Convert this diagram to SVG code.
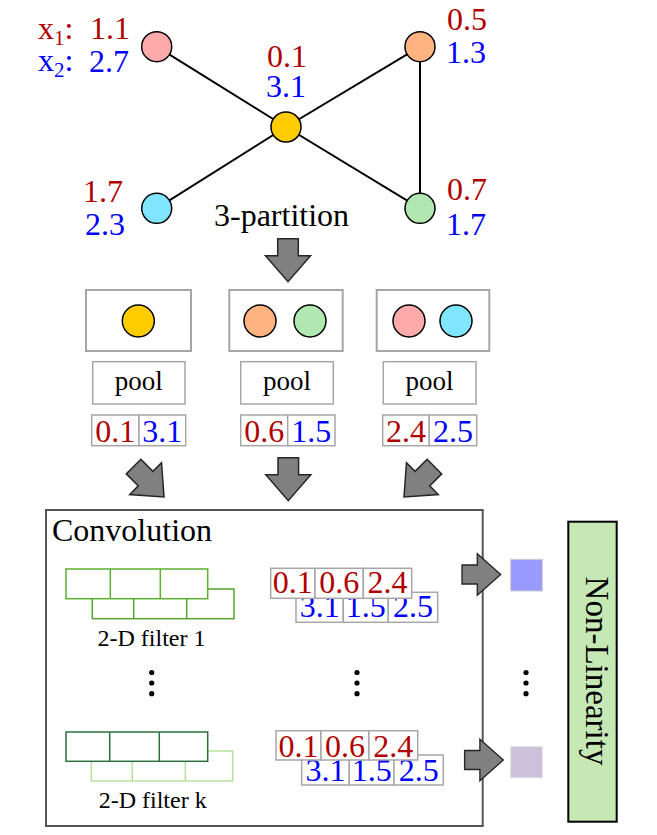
<svg xmlns="http://www.w3.org/2000/svg" width="657" height="835" viewBox="0 0 657 835">
<style>
text{font-family:"Liberation Serif","Times New Roman",serif}
.r{fill:#b00000;font-size:32px}
.b{fill:#0000ff;font-size:32px}
.k{fill:#000}
.nd{stroke:#000;stroke-width:1.5}
.edge{stroke:#000;stroke-width:2;fill:none}
.grp{fill:#fff;stroke:#a6a6a6;stroke-width:2}
.cell{fill:#fff;stroke:#a6a6a6;stroke-width:1.5}
.arr{fill:#808080;stroke:#262626;stroke-width:1.5;stroke-linejoin:miter}
.m{text-anchor:middle}
</style>
<defs>
<polygon id="darr" points="-10.3,-43 10.3,-43 10.3,-26 22.5,-26 0,0 -22.5,-26 -10.3,-26"/>
</defs>
<rect width="657" height="835" fill="#fff"/>

<g id="edges">
<line class="edge" x1="156.7" y1="46.7" x2="286" y2="127"/>
<line class="edge" x1="156.7" y1="208.3" x2="286" y2="127"/>
<line class="edge" x1="420" y1="46.7" x2="286" y2="127"/>
<line class="edge" x1="420" y1="208.3" x2="286" y2="127"/>
<line class="edge" x1="420" y1="46.7" x2="420" y2="208.3"/>
</g>

<g id="node-pink">
<circle class="nd" cx="156.7" cy="46.7" r="15" fill="#ffaaaa"/>
<text class="r" x="38" y="39">x<tspan font-size="21" dy="6">1</tspan><tspan dy="-6">:</tspan></text>
<text class="r" x="90" y="39">1.1</text>
<text class="b" x="38" y="71">x<tspan font-size="21" dy="6">2</tspan><tspan dy="-6">:</tspan></text>
<text class="b" x="89" y="71.7">2.7</text>
</g>
<g id="node-yellow">
<circle class="nd" cx="286" cy="127" r="15" fill="#ffcc00"/>
<text class="r" x="267" y="66.7">0.1</text>
<text class="b" x="266" y="97.3">3.1</text>
</g>
<g id="node-cyan">
<circle class="nd" cx="156.7" cy="208.3" r="15" fill="#80e5ff"/>
<text class="r" x="83" y="201.7">1.7</text>
<text class="b" x="85" y="235">2.3</text>
</g>
<g id="node-orange">
<circle class="nd" cx="420" cy="46.7" r="15" fill="#ffb380"/>
<text class="r" x="447" y="30">0.5</text>
<text class="b" x="446" y="63.3">1.3</text>
</g>
<g id="node-green">
<circle class="nd" cx="420" cy="208.3" r="15" fill="#b1e8b1"/>
<text class="r" x="447" y="200">0.7</text>
<text class="b" x="446" y="235">1.7</text>
</g>

<g id="label-partition">
<text class="k" x="214" y="226" font-size="32">3-partition</text>
</g>

<g id="group-1">
<rect class="grp" x="86" y="290" width="105" height="61"/>
<circle class="nd" cx="138.3" cy="321" r="16" fill="#ffcc00"/>
</g>
<g id="group-2">
<rect class="grp" x="229.3" y="290" width="113.4" height="61"/>
<circle class="nd" cx="260" cy="321" r="16" fill="#ffb380"/>
<circle class="nd" cx="310" cy="321" r="16" fill="#b1e8b1"/>
</g>
<g id="group-3">
<rect class="grp" x="376.7" y="290" width="112.6" height="61"/>
<circle class="nd" cx="409" cy="321" r="16" fill="#ffaaaa"/>
<circle class="nd" cx="456" cy="321" r="16" fill="#80e5ff"/>
</g>

<g id="pool-1">
<rect class="cell" x="92.7" y="361.7" width="92.3" height="42.3"/>
<text class="k m" x="138.8" y="390" font-size="27">pool</text>
</g>
<g id="pool-2">
<rect class="cell" x="240.7" y="361.7" width="92.6" height="42.3"/>
<text class="k m" x="287" y="390" font-size="27">pool</text>
</g>
<g id="pool-3">
<rect class="cell" x="383.3" y="361.7" width="92.7" height="42.3"/>
<text class="k m" x="429.6" y="390" font-size="27">pool</text>
</g>

<g id="vals-1">
<rect class="cell" x="91.7" y="415" width="47.3" height="30.7"/>
<rect class="cell" x="139" y="415" width="46.7" height="30.7"/>
<text class="r m" x="115.3" y="441.7">0.1</text>
<text class="b m" x="162.3" y="441.7">3.1</text>
</g>
<g id="vals-2">
<rect class="cell" x="240.7" y="415" width="47" height="30.7"/>
<rect class="cell" x="287.7" y="415" width="47.3" height="30.7"/>
<text class="r m" x="264.2" y="441.7">0.6</text>
<text class="b m" x="311.3" y="441.7">1.5</text>
</g>
<g id="vals-3">
<rect class="cell" x="382.7" y="415" width="46.6" height="30.7"/>
<rect class="cell" x="429.3" y="415" width="47.4" height="30.7"/>
<text class="r m" x="406" y="441.7">2.4</text>
<text class="b m" x="453" y="441.7">2.5</text>
</g>

<g id="convolution">
<rect x="46" y="510" width="436.7" height="316" fill="#fff" stroke="#555" stroke-width="2"/>
<text class="k" x="52" y="540.7" font-size="32">Convolution</text>
</g>

<g id="filter-1">
<g fill="#fff" stroke="#56a32a" stroke-width="1.5">
<rect x="92.3" y="589" width="141.7" height="29.7"/>
<line x1="133.7" y1="598.7" x2="133.7" y2="618.7"/>
<line x1="186.7" y1="598.7" x2="186.7" y2="618.7"/>
</g>
<g fill="#fff" stroke="#5cb030" stroke-width="1.5">
<rect x="66" y="569" width="141.7" height="29.7"/>
<line x1="110.3" y1="569" x2="110.3" y2="598.7"/>
<line x1="160.3" y1="569" x2="160.3" y2="598.7"/>
</g>
<text class="k m" x="151.5" y="645.7" font-size="24">2-D filter 1</text>
</g>

<g id="filter-k">
<g fill="#fff" stroke="#b5e39c" stroke-width="1.5">
<rect x="91.3" y="751" width="141.4" height="30"/>
<line x1="132.3" y1="761.3" x2="132.3" y2="781"/>
<line x1="185.3" y1="761.3" x2="185.3" y2="781"/>
</g>
<g fill="#fff" stroke="#2e6f3f" stroke-width="1.5">
<rect x="66" y="732" width="141.7" height="29.3"/>
<line x1="109.7" y1="732" x2="109.7" y2="761.3"/>
<line x1="159.3" y1="732" x2="159.3" y2="761.3"/>
</g>
<text class="k m" x="152.7" y="807.7" font-size="24">2-D filter k</text>
</g>

<g id="conv-vals-1">
<rect class="cell" x="296" y="592.3" width="47.3" height="30"/>
<rect class="cell" x="343.3" y="592.3" width="45" height="30"/>
<rect class="cell" x="388.3" y="592.3" width="49.4" height="30"/>
<text class="b m" x="319.7" y="616.7">3.1</text>
<text class="b m" x="365.8" y="616.7">1.5</text>
<text class="b m" x="413" y="616.7">2.5</text>
<rect class="cell" x="270.7" y="568.3" width="44.3" height="30"/>
<rect class="cell" x="315" y="568.3" width="48.3" height="30"/>
<rect class="cell" x="363.3" y="568.3" width="48.4" height="30"/>
<text class="r m" x="292.8" y="593.3">0.1</text>
<text class="r m" x="339.2" y="593.3">0.6</text>
<text class="r m" x="387.5" y="593.3">2.4</text>
</g>

<g id="conv-vals-k">
<rect class="cell" x="301.7" y="755" width="47.6" height="30"/>
<rect class="cell" x="349.3" y="755" width="44.7" height="30"/>
<rect class="cell" x="394" y="755" width="49.3" height="30"/>
<text class="b m" x="325.5" y="780.7">3.1</text>
<text class="b m" x="371.7" y="780.7">1.5</text>
<text class="b m" x="418.7" y="780.7">2.5</text>
<rect class="cell" x="276" y="730.7" width="45" height="29.3"/>
<rect class="cell" x="321" y="730.7" width="48" height="29.3"/>
<rect class="cell" x="369" y="730.7" width="48.7" height="29.3"/>
<text class="r m" x="298.5" y="757.3">0.1</text>
<text class="r m" x="345" y="757.3">0.6</text>
<text class="r m" x="393.3" y="757.3">2.4</text>
</g>

<g id="dots" fill="#000">
<circle cx="151.7" cy="672.5" r="2.6"/><circle cx="151.7" cy="683" r="2.6"/><circle cx="151.7" cy="693.7" r="2.6"/>
<circle cx="357" cy="672.5" r="2.6"/><circle cx="357" cy="683" r="2.6"/><circle cx="357" cy="693.7" r="2.6"/>
<circle cx="526" cy="672.5" r="2.6"/><circle cx="526" cy="683" r="2.6"/><circle cx="526" cy="693.7" r="2.6"/>
</g>

<g id="output-1">
<rect x="510.7" y="559.3" width="31.6" height="31.7" fill="#9999ff" stroke="#cccccc" stroke-width="1"/>
</g>
<g id="output-k">
<rect x="510.7" y="746.7" width="31.6" height="31" fill="#ccc1da" stroke="#e0e0e0" stroke-width="1"/>
</g>

<g id="non-linearity">
<rect x="568.3" y="521.7" width="48.4" height="300" fill="#c5e8b4" stroke="#000" stroke-width="2"/>
<text class="k m" font-size="33" transform="translate(586,671) rotate(90)">Non-Linearity</text>
</g>

<g id="connectors">
<use href="#darr" class="arr" transform="translate(288,281.7)"/>
<use href="#darr" class="arr" transform="translate(164,497) rotate(-45)"/>
<use href="#darr" class="arr" transform="translate(288.3,500.7)"/>
<use href="#darr" class="arr" transform="translate(404,497) rotate(45)"/>
<use href="#darr" class="arr" transform="translate(500.7,574.5) rotate(-90) scale(0.92,0.9)"/>
<use href="#darr" class="arr" transform="translate(503.3,760) rotate(-90) scale(0.92,0.9)"/>
</g>
</svg>
